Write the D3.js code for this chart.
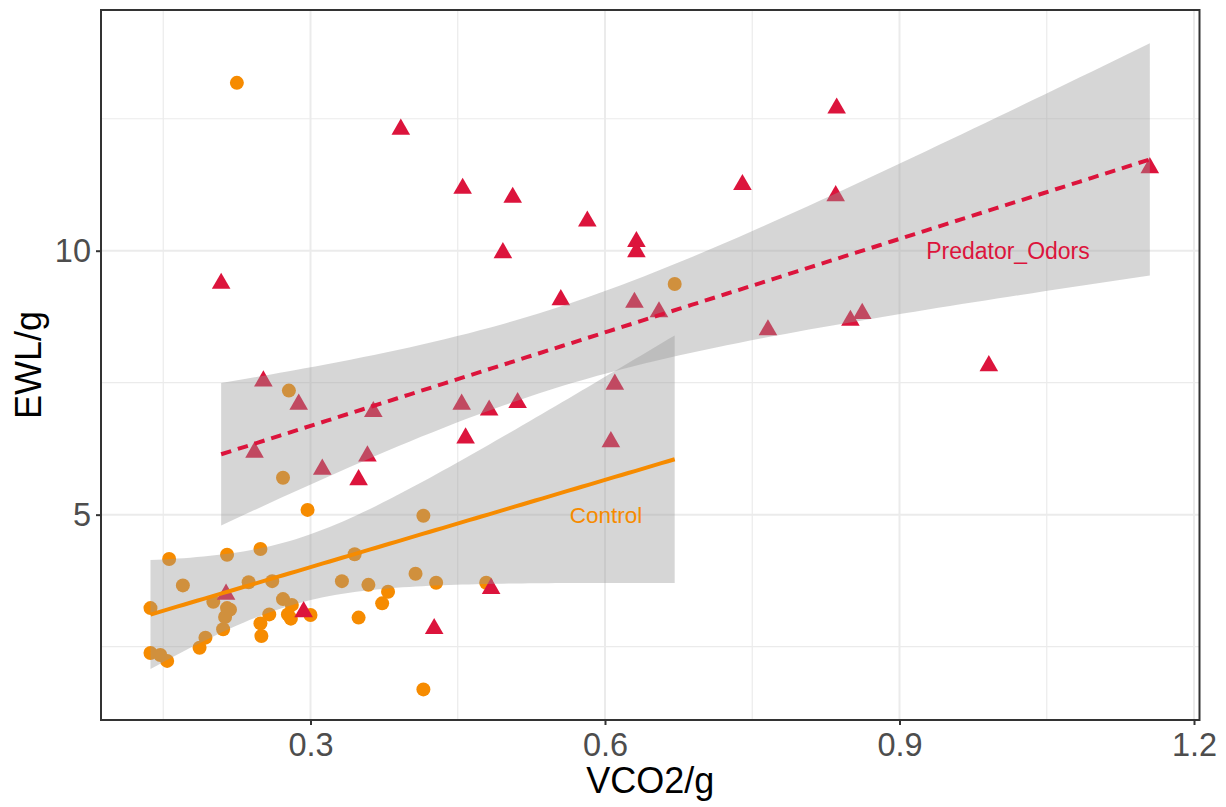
<!DOCTYPE html>
<html>
<head>
<meta charset="utf-8">
<script src="https://cdn.jsdelivr.net/npm/d3@7"></script>
<style>
  body { margin: 0; background: #fff; }
  text { font-family: "Liberation Sans", Arial, sans-serif; }
</style>
</head>
<body>
<svg id="chart" width="1226" height="807"></svg>
<script>
// Control group (circles)
const controlX = [0.137, 0.137, 0.147, 0.154, 0.156, 0.170, 0.187, 0.193, 0.201, 0.211,
                  0.213, 0.215, 0.218, 0.215, 0.237, 0.249, 0.261, 0.272, 0.281, 0.258,
                  0.249, 0.250, 0.277, 0.280, 0.300, 0.332, 0.345, 0.359, 0.349, 0.379,
                  0.373, 0.407, 0.428, 0.415, 0.415, 0.479, 0.225, 0.278, 0.272, 0.297, 0.671];
const controlY = [3.23, 2.38, 2.34, 2.23, 4.16, 3.66, 2.48, 2.67, 3.35, 2.83,
                  3.06, 3.23, 3.20, 4.24, 3.72, 4.35, 3.74, 3.40, 3.29, 3.11,
                  2.94, 2.70, 3.11, 3.03, 3.10, 3.74, 4.25, 3.67, 3.05, 3.54,
                  3.32, 3.88, 3.71, 1.69, 4.98, 3.71, 13.18, 7.35, 5.70, 5.09, 9.37];
// Predator_Odors group (triangles)
const predatorX = [0.209, 0.214, 0.293, 0.252, 0.288, 0.243, 0.312, 0.358, 0.364, 0.349,
                   0.392, 0.426, 0.484, 0.454, 0.482, 0.511, 0.458, 0.455, 0.506, 0.496,
                   0.582, 0.632, 0.632, 0.555, 0.630, 0.655, 0.610, 0.606, 0.836, 0.740,
                   0.835, 1.155, 0.766, 0.850, 0.862, 0.991];
const predatorY = [9.38, 3.49, 3.16, 7.53, 7.09, 6.18, 5.86, 6.11, 6.95, 5.66,
                   12.30, 2.84, 3.60, 7.09, 6.98, 7.12, 6.45, 11.18, 11.01, 9.96,
                   10.56, 10.17, 9.98, 9.07, 9.02, 8.84, 7.47, 6.38, 12.70, 11.25,
                   11.04, 11.57, 8.50, 8.68, 8.81, 7.82];

const xTicks = [0.3, 0.6, 0.9, 1.2];
const xMinor = [0.15, 0.45, 0.75, 1.05];
const yTicks = [5, 10];
const yMinor = [2.5, 7.5, 12.5];

const colControl = "#F68B00";
const colPredator = "#DC143C";

const svg = d3.select("#chart");
const panel = { left: 101, right: 1199.5, top: 10, bottom: 720 };

const x = d3.scaleLinear().domain([0.0866, 1.2056]).range([panel.left, panel.right]);
const y = d3.scaleLinear().domain([1.11, 14.56]).range([panel.bottom, panel.top]);

// t quantile 0.975 (Cornish-Fisher expansion)
function qt975(df) {
  const z = 1.959964;
  return z + (z ** 3 + z) / (4 * df)
    + (5 * z ** 5 + 16 * z ** 3 + 3 * z) / (96 * df * df)
    + (3 * z ** 7 + 19 * z ** 5 + 17 * z ** 3 - 15 * z) / (384 * df ** 3);
}

// lm fit with 95% confidence band, like geom_smooth(method = "lm")
function lmBand(xs, ys, n = 80) {
  const N = xs.length, mx = d3.mean(xs), my = d3.mean(ys);
  let sxx = 0, sxy = 0;
  xs.forEach((v, i) => { sxx += (v - mx) ** 2; sxy += (v - mx) * (ys[i] - my); });
  const b = sxy / sxx, a = my - b * mx;
  let sse = 0;
  xs.forEach((v, i) => { sse += (ys[i] - a - b * v) ** 2; });
  const s = Math.sqrt(sse / (N - 2)), t = qt975(N - 2);
  const [lo, hi] = d3.extent(xs);
  return d3.range(n).map(i => {
    const xv = lo + (hi - lo) * i / (n - 1);
    const fit = a + b * xv;
    const se = s * Math.sqrt(1 / N + (xv - mx) ** 2 / sxx);
    return { x: xv, y: fit, lo: fit - t * se, hi: fit + t * se };
  });
}

// grid
const grid = svg.append("g");
grid.selectAll(".gxm").data(xMinor).enter().append("line")
  .attr("x1", d => x(d)).attr("x2", d => x(d))
  .attr("y1", panel.top).attr("y2", panel.bottom)
  .attr("stroke", "#EBEBEB").attr("stroke-width", 1.2);
grid.selectAll(".gym").data(yMinor).enter().append("line")
  .attr("y1", d => y(d)).attr("y2", d => y(d))
  .attr("x1", panel.left).attr("x2", panel.right)
  .attr("stroke", "#EBEBEB").attr("stroke-width", 1.2);
grid.selectAll(".gx").data(xTicks).enter().append("line")
  .attr("x1", d => x(d)).attr("x2", d => x(d))
  .attr("y1", panel.top).attr("y2", panel.bottom)
  .attr("stroke", "#EBEBEB").attr("stroke-width", 2);
grid.selectAll(".gy").data(yTicks).enter().append("line")
  .attr("y1", d => y(d)).attr("y2", d => y(d))
  .attr("x1", panel.left).attr("x2", panel.right)
  .attr("stroke", "#EBEBEB").attr("stroke-width", 2);

// points
const control = controlX.map((v, i) => ({ x: v, y: controlY[i] }));
const predator = predatorX.map((v, i) => ({ x: v, y: predatorY[i] }));

svg.append("g").selectAll("circle").data(control).enter().append("circle")
  .attr("cx", d => x(d.x)).attr("cy", d => y(d.y)).attr("r", 7)
  .attr("fill", colControl);

const tri = d3.symbol().type(d3.symbolTriangle).size(150);
svg.append("g").selectAll("path").data(predator).enter().append("path")
  .attr("d", tri)
  .attr("transform", d => `translate(${x(d.x)},${y(d.y)})`)
  .attr("fill", colPredator);

// smooths
const area = d3.area().x(d => x(d.x)).y0(d => y(d.lo)).y1(d => y(d.hi));
const line = d3.line().x(d => x(d.x)).y(d => y(d.y));

const groups = [
  { fit: lmBand(controlX, controlY), color: colControl, dash: null },
  { fit: lmBand(predatorX, predatorY), color: colPredator, dash: "10.5,7" }
];
groups.forEach(g => {
  svg.append("path").datum(g.fit).attr("d", area)
    .attr("fill", "#999999").attr("fill-opacity", 0.4);
  svg.append("path").datum(g.fit).attr("d", line)
    .attr("fill", "none").attr("stroke", g.color).attr("stroke-width", 4)
    .attr("stroke-dasharray", g.dash);
});

// labels
svg.append("text").attr("x", x(0.601)).attr("y", y(5.0)).attr("dy", "0.36em")
  .attr("text-anchor", "middle").attr("font-size", 22.5).attr("fill", colControl)
  .text("Control");
svg.append("text").attr("x", x(1.0105)).attr("y", y(10.0)).attr("dy", "0.36em")
  .attr("text-anchor", "middle").attr("font-size", 23).attr("fill", colPredator)
  .text("Predator_Odors");

// panel border
svg.append("rect")
  .attr("x", panel.left).attr("y", panel.top)
  .attr("width", panel.right - panel.left).attr("height", panel.bottom - panel.top)
  .attr("fill", "none").attr("stroke", "#333333").attr("stroke-width", 2);

// axes
const xAxis = svg.append("g").attr("transform", `translate(0,${panel.bottom})`)
  .call(d3.axisBottom(x).tickValues(xTicks).tickFormat(d3.format(".1f")).tickSize(5).tickSizeOuter(0));
xAxis.select(".domain").remove();
xAxis.selectAll(".tick line").attr("stroke", "#333333").attr("stroke-width", 2);
xAxis.selectAll(".tick text").attr("y", 36).attr("dy", null)
  .attr("font-size", 32.5).attr("fill", "#4D4D4D")
  .attr("font-family", "Liberation Sans, Arial, sans-serif");

const yAxis = svg.append("g").attr("transform", `translate(${panel.left},0)`)
  .call(d3.axisLeft(y).tickValues(yTicks).tickSize(5).tickPadding(5).tickSizeOuter(0));
yAxis.select(".domain").remove();
yAxis.selectAll(".tick line").attr("stroke", "#333333").attr("stroke-width", 2);
yAxis.selectAll(".tick text")
  .attr("font-size", 32.5).attr("fill", "#4D4D4D")
  .attr("font-family", "Liberation Sans, Arial, sans-serif");

// axis titles
svg.append("text").attr("x", (panel.left + panel.right) / 2).attr("y", 793)
  .attr("text-anchor", "middle").attr("font-size", 36).attr("fill", "#000")
  .text("VCO2/g");
svg.append("text")
  .attr("transform", `translate(41,${(panel.top + panel.bottom) / 2}) rotate(-90)`)
  .attr("text-anchor", "middle").attr("font-size", 36).attr("fill", "#000")
  .text("EWL/g");
</script>
</body>
</html>
